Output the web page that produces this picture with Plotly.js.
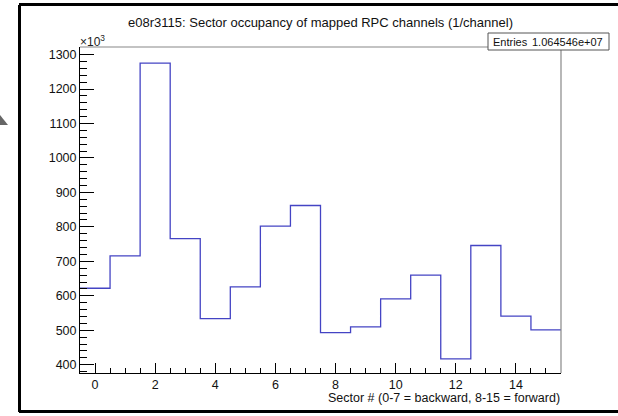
<!DOCTYPE html>
<html>
<head>
<meta charset="utf-8">
<script src="https://cdn.plot.ly/plotly-3.0.1.min.js"></script>
<style>
  html, body { margin: 0; padding: 0; background: #fff; overflow: hidden; }
  #plot { width: 618px; height: 416px; }
</style>
</head>
<body>
<div id="plot"></div>
<script>
// sector number (bin centres) and occupancy per sector, in units of 10^3
var sectors = [0, 1, 2, 3, 4, 5, 6, 7, 8, 9, 10, 11, 12, 13, 14, 15];
var occupancy = [622, 716, 1275, 766, 534, 626, 802, 862, 493, 510, 591, 660, 417, 746, 541, 501];
var entriesText = '1.064546e+07';

// bin edges for the step outline
var edges = sectors.map(function (s) { return s - 0.5; });
edges.push(sectors[sectors.length - 1] + 0.5);
var stepY = occupancy.slice();
stepY.push(occupancy[occupancy.length - 1]);

var font = 'Liberation Sans, Arial, Helvetica, sans-serif';

// paper spans the canvas border: x 19..618, y 5..412
var PL = 19, PW = 599, PB = 412, PH = 407;
function px(x) { return (x - PL) / PW; }
function py(y) { return (PB - y) / PH; }

var trace = {
  x: edges,
  y: stepY,
  type: 'scatter',
  mode: 'lines',
  line: { shape: 'hv', color: '#4444c4', width: 1.3 },
  hoverinfo: 'skip'
};

var border = { color: '#000', width: 3 };

var layout = {
  width: 618,
  height: 416,
  margin: { t: 5, b: 4, l: 19, r: 0 },
  paper_bgcolor: '#fff',
  plot_bgcolor: '#fff',
  showlegend: false,
  title: {
    text: 'e08r3115: Sector occupancy of mapped RPC channels (1/channel)',
    font: { family: font, size: 13, color: '#111' },
    x: (320.5 - PL) / PW, xref: 'paper', xanchor: 'center',
    y: 1 - 22 / 416, yref: 'container', yanchor: 'middle'
  },
  xaxis: {
    domain: [px(80), px(561)],
    range: [-0.5, 15.5],
    dtick: 2, tick0: 0,
    ticks: 'inside', ticklen: 10, tickcolor: '#000', tickwidth: 1,
    minor: { dtick: 0.5, tick0: 0, ticks: 'inside', ticklen: 5, tickcolor: '#000' },
    showgrid: false, zeroline: false,
    showline: true, linecolor: '#000', linewidth: 1,
    tickfont: { family: font, size: 12.5, color: '#111' }
  },
  yaxis: {
    domain: [py(373), py(47)],
    range: [376, 1322],
    dtick: 100, tick0: 0,
    ticks: 'inside', ticklen: 14, tickcolor: '#000', tickwidth: 1,
    minor: { dtick: 20, tick0: 0, ticks: 'inside', ticklen: 7, tickcolor: '#000' },
    showgrid: false, zeroline: false,
    showline: true, linecolor: '#000', linewidth: 1,
    tickfont: { family: font, size: 12.5, color: '#111' }
  },
  shapes: [
    // top and right frame of the pad
    { type: 'line', xref: 'paper', yref: 'paper', x0: px(80), x1: px(561), y0: py(47), y1: py(47),
      line: { color: '#888', width: 1.2 } },
    { type: 'line', xref: 'paper', yref: 'paper', x0: px(561), x1: px(561), y0: py(373), y1: py(47),
      line: { color: '#888', width: 1.2 } },
    // stats box
    { type: 'rect', xref: 'paper', yref: 'paper',
      x0: px(488), x1: px(609), y0: py(50), y1: py(33),
      fillcolor: '#fff', line: { color: '#555', width: 1 } },
    // outer canvas border: left, top, bottom (right side runs off the picture)
    { type: 'line', xref: 'paper', yref: 'paper', x0: px(19.5), x1: px(19.5), y0: py(412), y1: py(5),
      line: border },
    { type: 'line', xref: 'paper', yref: 'paper', x0: px(19), x1: 1, y0: py(4.5), y1: py(4.5),
      line: border },
    { type: 'line', xref: 'paper', yref: 'paper', x0: px(19), x1: 1, y0: py(411.5), y1: py(411.5),
      line: border },
    // little grey marker on the left edge
    { type: 'path', xref: 'paper', yref: 'paper',
      path: 'M ' + px(0) + ' ' + py(115) + ' L ' + px(8) + ' ' + py(125) +
            ' L ' + px(0) + ' ' + py(125) + ' Z',
      fillcolor: '#666', line: { width: 0 } }
  ],
  annotations: [
    { text: '×10<sup>3</sup>', xref: 'paper', yref: 'paper',
      x: px(78), y: py(41), xanchor: 'left', yanchor: 'middle',
      showarrow: false, font: { family: font, size: 12, color: '#222' } },
    { text: 'Entries', xref: 'paper', yref: 'paper',
      x: px(491), y: py(41.5), xanchor: 'left', yanchor: 'middle',
      showarrow: false, font: { family: font, size: 11, color: '#111' } },
    { text: entriesText, xref: 'paper', yref: 'paper',
      x: px(605), y: py(41.5), xanchor: 'right', yanchor: 'middle',
      showarrow: false, font: { family: font, size: 11, color: '#111' } },
    { text: 'Sector # (0-7 = backward, 8-15 = forward)', xref: 'paper', yref: 'paper',
      x: px(562), y: py(398), xanchor: 'right', yanchor: 'middle',
      showarrow: false, font: { family: font, size: 12.5, color: '#111' } }
  ]
};

Plotly.newPlot('plot', [trace], layout, { staticPlot: true, displayModeBar: false });
</script>
</body>
</html>
